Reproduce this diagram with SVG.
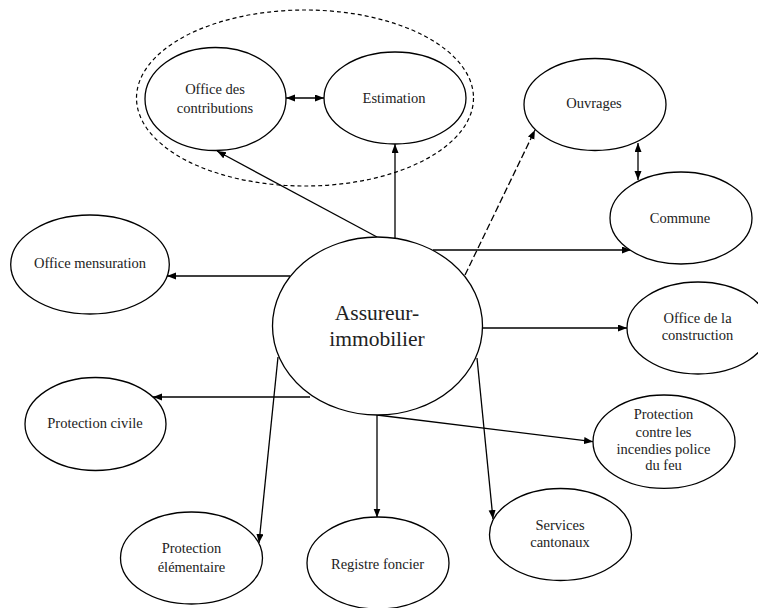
<svg xmlns="http://www.w3.org/2000/svg" width="758" height="608" viewBox="0 0 758 608">
<style>
.n{fill:#fff;stroke:#000;stroke-width:1.3}
.t{font-family:'Liberation Serif','DejaVu Serif',serif;font-size:14.5px;fill:#222;text-anchor:middle}
.big{font-size:21.5px}
.c{stroke:#000;stroke-width:1.3;fill:none}
.a{marker-end:url(#ah)}
.d{marker-start:url(#ah);marker-end:url(#ah)}
</style>
<defs>
<marker id="ah" markerUnits="userSpaceOnUse" markerWidth="10" markerHeight="8" refX="9" refY="3.5" orient="auto-start-reverse">
<path d="M0,0 L9,3.5 L0,7 z" fill="#000"/>
</marker>
</defs>
<rect width="758" height="608" fill="#fff"/>
<ellipse cx="305" cy="98" rx="168.5" ry="88" fill="none" stroke="#000" stroke-width="1.2" stroke-dasharray="4 3"/>
<g id="connectors">
<line class="c a" x1="377" y1="237" x2="217" y2="151"/>
<line class="c a" x1="395" y1="238.5" x2="395" y2="144"/>
<line class="c d" x1="286" y1="98" x2="324" y2="98"/>
<line class="c a" x1="465" y1="275" x2="535" y2="130" stroke-dasharray="7 3"/>
<line class="c d" x1="638" y1="143" x2="638" y2="180"/>
<line class="c a" x1="433" y1="250" x2="631" y2="250"/>
<line class="c a" x1="290" y1="276" x2="167" y2="276"/>
<line class="c a" x1="482" y1="328" x2="627" y2="328"/>
<line class="c a" x1="310" y1="397" x2="153" y2="397"/>
<line class="c a" x1="278" y1="357" x2="259" y2="543"/>
<line class="c a" x1="377" y1="415" x2="377" y2="517.5"/>
<line class="c a" x1="377" y1="415" x2="593" y2="441.7"/>
<line class="c a" x1="477" y1="358" x2="493" y2="519"/>
</g>
<g id="assureur">
<ellipse class="n" cx="377.5" cy="326" rx="105" ry="89"/>
<text class="t big" x="377" y="320" font-family="Liberation Serif, DejaVu Serif, serif">Assureur-</text>
<text class="t big" x="377" y="346" font-family="Liberation Serif, DejaVu Serif, serif">immobilier</text>
</g>
<g id="office-contributions">
<ellipse class="n" cx="215.5" cy="99" rx="70.5" ry="51.5"/>
<text class="t" x="215" y="94.3">Office des</text>
<text class="t" x="215" y="112.7">contributions</text>
</g>
<g id="estimation">
<ellipse class="n" cx="395" cy="98" rx="71" ry="46"/>
<text class="t" x="394" y="102.7">Estimation</text>
</g>
<g id="ouvrages">
<ellipse class="n" cx="595" cy="104.5" rx="71" ry="46"/>
<text class="t" x="594" y="108.3">Ouvrages</text>
</g>
<g id="commune">
<ellipse class="n" cx="681" cy="218" rx="71" ry="46"/>
<text class="t" x="680" y="223.3">Commune</text>
</g>
<g id="office-mensuration">
<ellipse class="n" cx="90" cy="264.5" rx="79.3" ry="49.5"/>
<text class="t" x="90" y="268.3">Office mensuration</text>
</g>
<g id="office-construction">
<ellipse class="n" cx="698" cy="328" rx="71" ry="46"/>
<text class="t" x="697.5" y="323.3">Office de la</text>
<text class="t" x="697.5" y="340">construction</text>
</g>
<g id="protection-civile">
<ellipse class="n" cx="95.5" cy="424" rx="70.5" ry="46.5"/>
<text class="t" x="95" y="428.3">Protection civile</text>
</g>
<g id="protection-incendies">
<ellipse class="n" cx="664" cy="441.7" rx="71" ry="46.7"/>
<text class="t" x="663.5" y="419.3">Protection</text>
<text class="t" x="663.5" y="436.7">contre les</text>
<text class="t" x="663.5" y="454.3">incendies police</text>
<text class="t" x="663.5" y="470">du feu</text>
</g>
<g id="protection-elementaire">
<ellipse class="n" cx="191.5" cy="558" rx="71" ry="46"/>
<text class="t" x="191.5" y="553.3">Protection</text>
<text class="t" x="191.5" y="571.7">élémentaire</text>
</g>
<g id="registre-foncier">
<ellipse class="n" cx="378" cy="563" rx="71" ry="46"/>
<text class="t" x="377.5" y="569.3">Registre foncier</text>
</g>
<g id="services-cantonaux">
<ellipse class="n" cx="560.5" cy="534.5" rx="71" ry="46"/>
<text class="t" x="560" y="530">Services</text>
<text class="t" x="560" y="547.3">cantonaux</text>
</g>
</svg>
